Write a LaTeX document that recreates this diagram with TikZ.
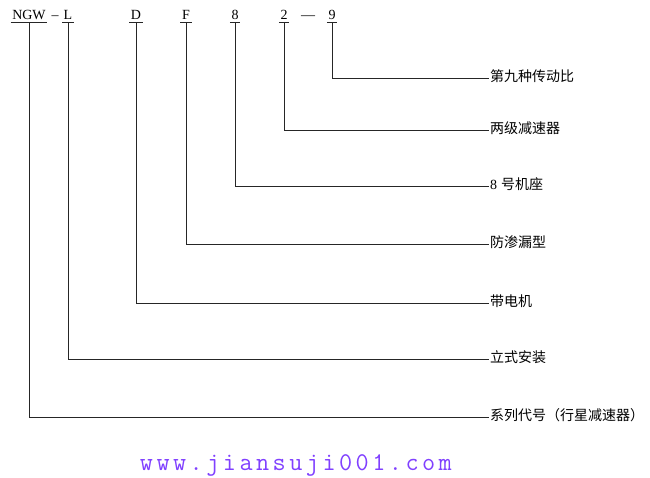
\documentclass[tikz,border=0pt]{standalone}
\usepackage{fontspec}
\setmainfont{Liberation Serif}
\newfontfamily\cjk{Noto Sans CJK SC}
\definecolor{urlpurple}{RGB}{128,64,255}
\newcommand{\uc}[1]{\makebox[16.6pt][c]{#1}}
\tikzset{
  code/.style={font=\fontsize{14}{16}\selectfont, inner sep=0pt, inner xsep=1.5pt, anchor=base},
  dashmark/.style={font=\fontsize{14}{16}\selectfont, inner sep=0pt, anchor=base},
  lab/.style={font=\cjk\fontsize{14}{16}\selectfont, inner sep=0pt, inner xsep=1pt, anchor=west, text height=0.83em, text depth=0.07em},
  wire/.style={line width=0.8pt, draw=black!85},
  uline/.style={line width=0.8pt, draw=black!85},
}
\begin{document}
\begin{tikzpicture}[x=1pt,y=-1pt]
\useasboundingbox (0,0) rectangle (650,477);
% codes
\node[code] (ngw) at (29,19) {NGW};
\node[dashmark] (h1) at (55,19) {–};
\node[code] (cl) at (68,19) {L};
\node[code] (cd) at (136,19) {D};
\node[code] (cf) at (186,19) {F};
\node[code] (c8) at (235,19) {8};
\node[code] (c2) at (284,19) {2};
\node[dashmark] (h2) at (308,19) {—};
\node[code] (c9) at (332,19) {9};
% underlines
\foreach \n in {ngw,cl,cd,cf,c8,c2,c9}{
  \draw[uline] ([yshift=-3pt]\n.base west) -- ([yshift=-3pt]\n.base east);
  \coordinate (\n u) at ([yshift=-3pt]\n.base);
}
% labels
\node[lab] (t9) at (489,78) {第九种传动比};
\node[lab] (t2) at (489,130) {两级减速器};
\node[lab] (t8) at (489,186) {{\rmfamily 8}\hspace{4pt}号机座};
\node[lab] (tf) at (489,244) {防渗漏型};
\node[lab] (td) at (489,303) {带电机};
\node[lab] (tl) at (489,359) {立式安装};
\node[lab] (tn) at (489,417) {系列代号（行星减速器）};
% connectors
\draw[wire] (c9u) |- (t9.west);
\draw[wire] (c2u) |- (t2.west);
\draw[wire] (c8u) |- (t8.west);
\draw[wire] (cfu) |- (tf.west);
\draw[wire] (cdu) |- (td.west);
\draw[wire] (clu) |- (tl.west);
\draw[wire] (ngwu) |- (tn.west);
% url
\node[font=\ttfamily\fontsize{25.5}{28}\selectfont, text=urlpurple, inner sep=0pt, anchor=base west] (url) at (138,470)
  {\uc{w}\uc{w}\uc{w}\uc{.}\uc{j}\uc{i}\uc{a}\uc{n}\uc{s}\uc{u}\uc{j}\uc{i}\uc{0}\uc{0}\uc{1}\uc{.}\uc{c}\uc{o}\uc{m}};
\end{tikzpicture}
\end{document}
